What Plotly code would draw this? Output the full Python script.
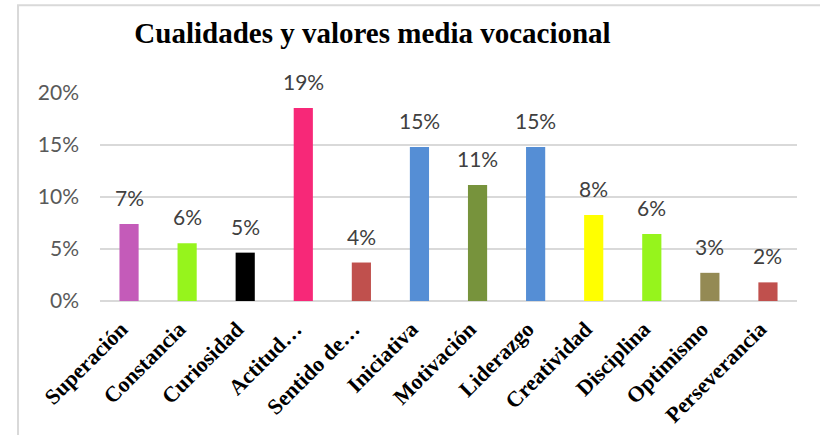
import plotly.graph_objects as go

categories = ["Superación", "Constancia", "Curiosidad", "Actitud…", "Sentido de…", "Iniciativa",
              "Motivación", "Liderazgo", "Creatividad", "Disciplina", "Optimismo", "Perseverancia"]
values = [0.074, 0.0555, 0.0465, 0.1855, 0.037, 0.148, 0.1115, 0.148, 0.0827, 0.0645, 0.0271, 0.0179]
colors = ["#C45BB9", "#96F41C", "#000000", "#F72878", "#C0504D", "#558ED5",
          "#77933C", "#558ED5", "#FFFF00", "#96F41C", "#948A54", "#C0504D"]
y_ticks = [0, 0.05, 0.10, 0.15, 0.20]
y_tick_labels = ["0%", "5%", "10%", "15%", "20%"]
title_text = "Cualidades y valores media vocacional"

W, H = 820, 435
ml, mr, mt, mb = 99.5, 23.3, 93, 133.7

fig = go.Figure()
fig.add_trace(go.Bar(
    x=categories, y=values, marker=dict(color=colors, line=dict(width=0)),
    width=0.33, hoverinfo="skip", showlegend=False,
))

for c, v in zip(categories, values):
    fig.add_annotation(x=c, y=v, text=f"{round(v * 100):d}%", showarrow=False,
                       yanchor="bottom", yshift=12,
                       font=dict(family="Lato", size=21, color="#404040"))

pw = W - ml - mr
ph = H - mt - mb
fig.add_shape(type="rect", xref="paper", yref="paper",
              x0=(17.5 - ml) / pw, x1=1.3, y0=-1.0, y1=(H - mb - 5) / ph,
              line=dict(color="#D9D9D9", width=2), fillcolor="rgba(0,0,0,0)", layer="below")

fig.update_layout(
    width=W, height=H,
    margin=dict(l=ml, r=mr, t=mt, b=mb, pad=0, autoexpand=False),
    paper_bgcolor="white", plot_bgcolor="white",
    title=dict(text=title_text, x=372.5 / W, xanchor="center", xref="container",
               y=1 - 33 / H, yanchor="middle", yref="container",
               font=dict(family="Liberation Serif", size=29, color="#000000", weight="bold")),
    bargap=0.67,
)
fig.update_xaxes(
    tickangle=-45, showgrid=False, showline=False, ticks="", automargin=False,
    ticklabelstandoff=10, ticklabelshift=-8,
    tickfont=dict(family="Liberation Serif", size=22, color="#000000", weight="bold"),
)
fig.update_yaxes(
    range=[0, 0.2], tickvals=y_ticks, ticktext=y_tick_labels, automargin=False,
    showgrid=True, gridcolor="#D9D9D9", gridwidth=1.5,
    zeroline=True, zerolinecolor="#D9D9D9", zerolinewidth=2,
    showline=False, ticks="", ticklabelstandoff=20,
    tickfont=dict(family="Lato", size=21, color="#595959"),
)
fig.write_html("out.html", config={"displayModeBar": False},
               post_script="document.body.style.margin='0';")
